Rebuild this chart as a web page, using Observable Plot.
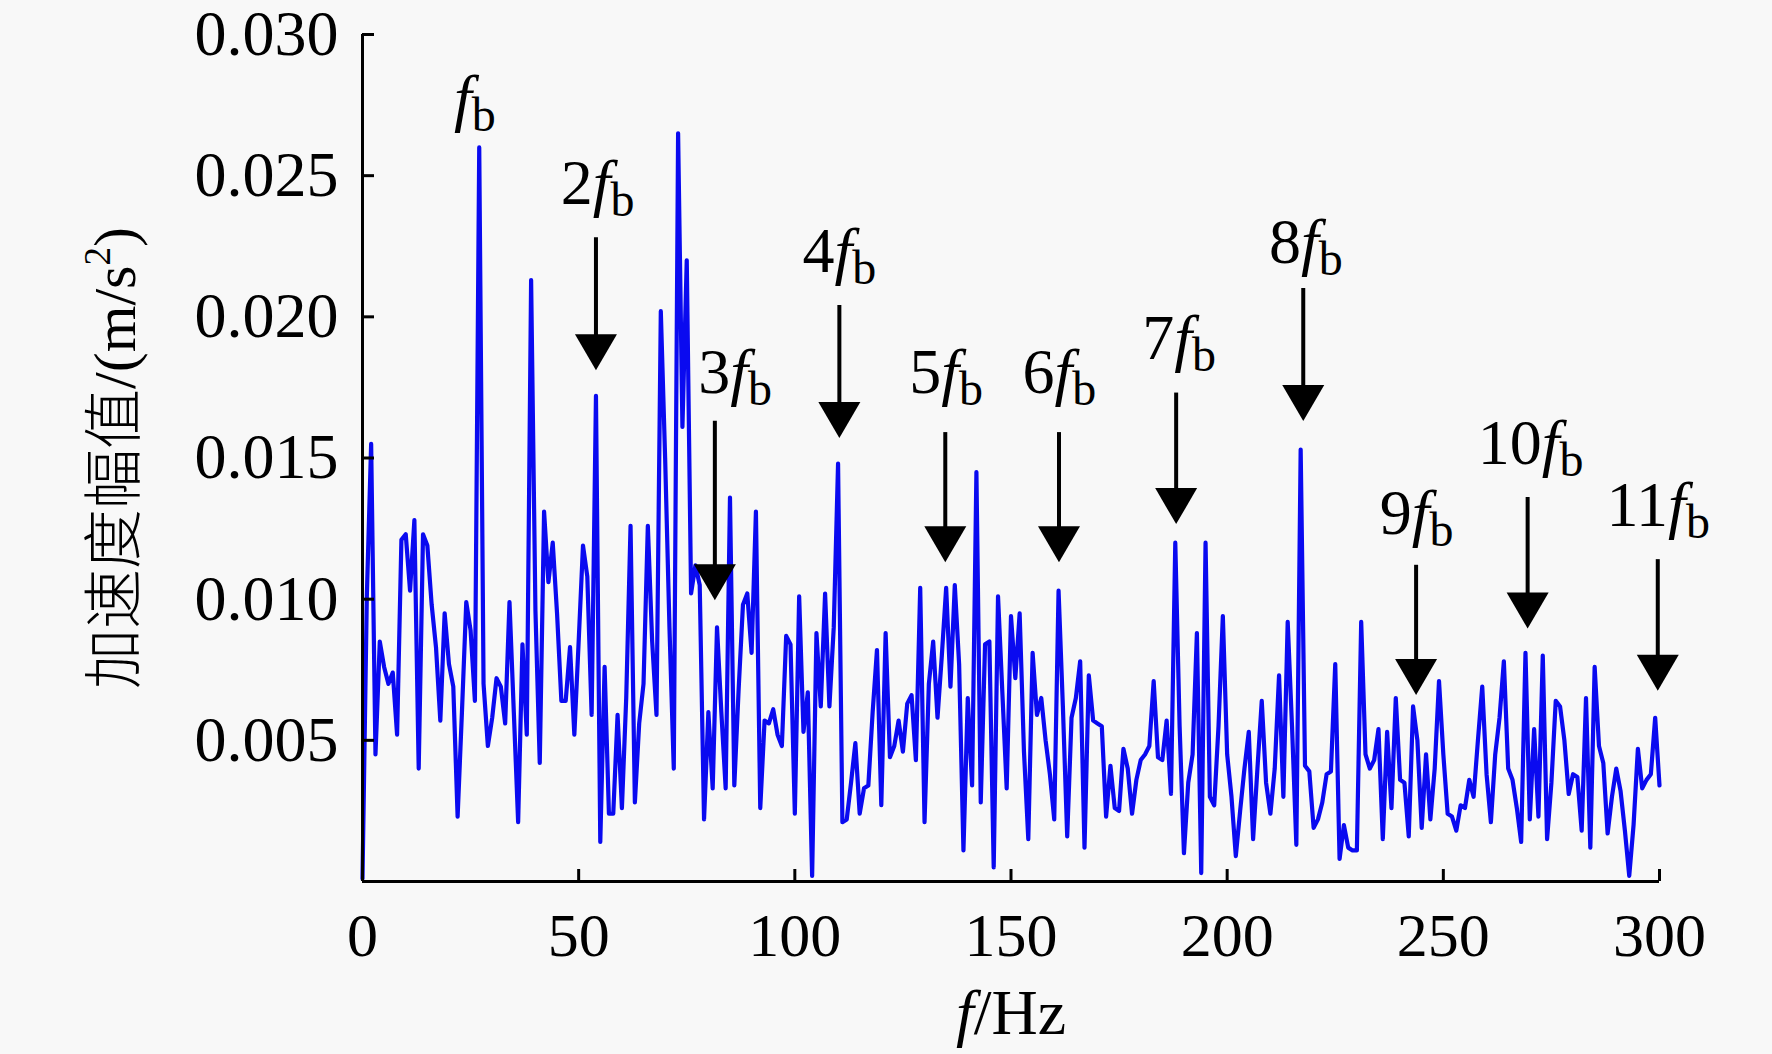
<!DOCTYPE html>
<html>
<head>
<meta charset="utf-8">
<script src="https://cdn.jsdelivr.net/npm/d3@7"></script>
<script src="https://cdn.jsdelivr.net/npm/@observablehq/plot@0.6"></script>
<style>
  html, body { margin: 0; padding: 0; background: #f8f8f8; }
  #chart svg { display: block; }
</style>
</head>
<body>
<div id="chart"></div>
<script>
// ---- data ----
const freqStep = 1; // Hz between spectrum samples (sample i is at i Hz)
const amplitude = [
  0.0001, 0.0101, 0.0155, 0.0045, 0.0085, 0.0076, 0.0070, 0.0074, 0.0052, 0.0121,
  0.0123, 0.0103, 0.0128, 0.0040, 0.0123, 0.0119, 0.0098, 0.0083, 0.0057, 0.0095,
  0.0077, 0.0069, 0.0023, 0.0060, 0.0099, 0.0089, 0.0064, 0.0260, 0.0070, 0.0048,
  0.0058, 0.0072, 0.0069, 0.0056, 0.0099, 0.0060, 0.0021, 0.0084, 0.0052, 0.0213,
  0.0096, 0.0042, 0.0131, 0.0106, 0.0120, 0.0095, 0.0064, 0.0064, 0.0083, 0.0052,
  0.0085, 0.0119, 0.0108, 0.0059, 0.0172, 0.0014, 0.0076, 0.0024, 0.0024, 0.0059,
  0.0026, 0.0065, 0.0126, 0.0028, 0.0056, 0.0070, 0.0126, 0.0085, 0.0059, 0.0202,
  0.0150, 0.0090, 0.0040, 0.0265, 0.0161, 0.0220, 0.0102, 0.0112, 0.0105, 0.0022,
  0.0060, 0.0033, 0.0090, 0.0060, 0.0033, 0.0136, 0.0034, 0.0068, 0.0098, 0.0102,
  0.0081, 0.0131, 0.0026, 0.0057, 0.0056, 0.0061, 0.0052, 0.0048, 0.0087, 0.0084,
  0.0024, 0.0101, 0.0053, 0.0067, 0.0002, 0.0088, 0.0062, 0.0102, 0.0062, 0.0090,
  0.0148, 0.0021, 0.0022, 0.0035, 0.0049, 0.0024, 0.0033, 0.0034, 0.0060, 0.0082,
  0.0027, 0.0088, 0.0044, 0.0048, 0.0057, 0.0046, 0.0063, 0.0066, 0.0043, 0.0104,
  0.0021, 0.0070, 0.0085, 0.0058, 0.0080, 0.0104, 0.0069, 0.0105, 0.0077, 0.0011,
  0.0065, 0.0034, 0.0145, 0.0028, 0.0084, 0.0085, 0.0005, 0.0101, 0.0067, 0.0033,
  0.0094, 0.0072, 0.0095, 0.0046, 0.0015, 0.0081, 0.0059, 0.0065, 0.0050, 0.0038,
  0.0022, 0.0103, 0.0062, 0.0016, 0.0058, 0.0065, 0.0078, 0.0012, 0.0073, 0.0057,
  0.0056, 0.0055, 0.0023, 0.0041, 0.0026, 0.0025, 0.0047, 0.0040, 0.0024, 0.0036,
  0.0043, 0.0045, 0.0048, 0.0071, 0.0044, 0.0043, 0.0057, 0.0031, 0.0120, 0.0055,
  0.0010, 0.0035, 0.0045, 0.0088, 0.0003, 0.0120, 0.0030, 0.0027, 0.0055, 0.0094,
  0.0045, 0.0030, 0.0009, 0.0025, 0.0040, 0.0053, 0.0015, 0.0040, 0.0064, 0.0035,
  0.0024, 0.0040, 0.0073, 0.0030, 0.0092, 0.0055, 0.0013, 0.0153, 0.0041, 0.0039,
  0.0019, 0.0022, 0.0028, 0.0038, 0.0039, 0.0077, 0.0008, 0.0020, 0.0012, 0.0011,
  0.0011, 0.0092, 0.0045, 0.0040, 0.0043, 0.0054, 0.0015, 0.0053, 0.0026, 0.0065,
  0.0036, 0.0035, 0.0016, 0.0062, 0.0050, 0.0019, 0.0045, 0.0022, 0.0040, 0.0071,
  0.0045, 0.0024, 0.0023, 0.0018, 0.0027, 0.0026, 0.0036, 0.0030, 0.0050, 0.0069,
  0.0038, 0.0021, 0.0045, 0.0058, 0.0078, 0.0040, 0.0036, 0.0026, 0.0014, 0.0081,
  0.0022, 0.0054, 0.0023, 0.0080, 0.0015, 0.0035, 0.0064, 0.0062, 0.0050, 0.0031,
  0.0038, 0.0037, 0.0018, 0.0065, 0.0012, 0.0076, 0.0048, 0.0042, 0.0017, 0.0030,
  0.0040, 0.0032, 0.0018, 0.0002, 0.0020, 0.0047, 0.0033, 0.0036, 0.0038, 0.0058,
  0.0034
];
const yTicks = [0.005, 0.010, 0.015, 0.020, 0.025, 0.030];
const xTicks = [0, 50, 100, 150, 200, 250, 300];

// harmonic annotations (fb, 2fb, ... 11fb)
const harmonicMultipliers = ["", "2", "3", "4", "5", "6", "7", "8", "9", "10", "11"];
const labelFreq = [26, 54.4, 86.2, 110.3, 135, 161.2, 188.9, 218.2, 243.8, 270.2, 299.7];
const labelAmp  = [0.0270, 0.0240, 0.0173, 0.0216, 0.0173, 0.0173, 0.0185, 0.0219, 0.0123, 0.0148, 0.0126];
// arrows for 2fb ... 11fb
const arrowFreq = [54, 81.5, 110.3, 134.8, 161.1, 188.2, 217.6, 243.7, 269.5, 299.6];
const arrowTop  = [0.0228, 0.0163, 0.0204, 0.0159, 0.0159, 0.0173, 0.0210, 0.0112, 0.0136, 0.0114];
const arrowTip  = [0.01825, 0.0101, 0.01585, 0.01145, 0.01145, 0.0128, 0.01645, 0.00675, 0.0091, 0.0069];

const xTitle = "f/Hz";
const yTitleCJK = "加速度幅值";
const yTitleUnit = "/(m/s";
const yTitleSup = "2";
const yTitle = yTitleCJK + yTitleUnit + yTitleSup + ")";

// ---- build ----
const spectrum = amplitude.map((a, i) => ({f: i * freqStep, a}));
const labelNames = harmonicMultipliers.map(m => m + "fb");
const labels = labelNames.map((name, i) => ({name, f: labelFreq[i], a: labelAmp[i]}));
const arrows = arrowFreq.map((f, i) => ({f, top: arrowTop[i], tip: arrowTip[i]}));

const downTriangle = {
  draw(context) {
    context.moveTo(0, 4);
    context.lineTo(-21, -32);
    context.lineTo(21, -32);
    context.closePath();
  }
};

const serif = "'Liberation Serif', 'Times New Roman', serif";

const svg = Plot.plot({
  width: 1772,
  height: 1054,
  marginLeft: 362,
  marginRight: 113,
  marginTop: 34,
  marginBottom: 173,
  x: {domain: [0, 300]},
  y: {domain: [0, 0.03]},
  style: {background: "#f8f8f8", fontFamily: serif, fontSize: "62px", color: "black", overflow: "visible"},
  marks: [
    Plot.line(spectrum, {x: "f", y: "a", stroke: "#0a0af0", strokeWidth: 4.2}),
    Plot.ruleX([0], {stroke: "black", strokeWidth: 3}),
    Plot.ruleY([0], {stroke: "black", strokeWidth: 3}),
    Plot.axisY({ticks: yTicks, tickSize: 12, dx: 12, tickFormat: () => "", label: null, strokeWidth: 3}),
    Plot.axisY({ticks: yTicks, tickSize: 0, tickPadding: 24, tickFormat: d3.format(".3f"), label: null, fontSize: 64, style: "letter-spacing: 1.5px"}),
    Plot.axisX({ticks: xTicks, tickSize: 12, dy: -12, tickFormat: () => "", label: null, strokeWidth: 3}),
    Plot.axisX({ticks: xTicks, tickSize: 0, tickPadding: 30, tickFormat: d3.format("d"), label: null, fontSize: 62}),
    Plot.ruleX(arrows, {x: "f", y1: "top", y2: "tip", stroke: "black", strokeWidth: 4}),
    Plot.dot(arrows, {x: "f", y: "tip", symbol: downTriangle, fill: "black", stroke: "none", r: 10}),
    Plot.text(labels, {x: "f", y: "a", text: "name", lineAnchor: "bottom", fontSize: 64, fill: "black"}),
    Plot.text([xTitle], {frameAnchor: "bottom", dy: 152, lineAnchor: "bottom", textAnchor: "middle", fontSize: 64, fill: "black"}),
    Plot.text([yTitle], {frameAnchor: "left", dx: -247, rotate: -90, lineAnchor: "middle", textAnchor: "middle", fontSize: 60, fill: "black"})
  ]
});

// rich text: italic f, subscript b, superscript 2
d3.select(svg).selectAll("text").each(function() {
  const t = d3.select(this);
  if (this.querySelector("tspan")) return;
  const content = this.textContent;
  const k = labelNames.indexOf(content);
  if (k >= 0) {
    t.text(null);
    if (harmonicMultipliers[k]) t.append("tspan").text(harmonicMultipliers[k]);
    t.append("tspan").attr("font-style", "italic").text("f");
    t.append("tspan").attr("font-size", "48px").attr("dy", "12").text("b");
  } else if (content === xTitle) {
    t.text(null);
    t.append("tspan").attr("font-style", "italic").text("f");
    t.append("tspan").text("/Hz");
  } else if (content === yTitle) {
    t.text(null);
    t.append("tspan").attr("font-family", "'Noto Sans CJK SC', sans-serif").attr("font-weight", 300).text(yTitleCJK);
    t.append("tspan").text(yTitleUnit);
    t.append("tspan").attr("font-size", "37px").attr("dy", "-25").text(yTitleSup);
    t.append("tspan").attr("dy", "25").text(")");
  }
});

document.getElementById("chart").appendChild(svg);
</script>
</body>
</html>
